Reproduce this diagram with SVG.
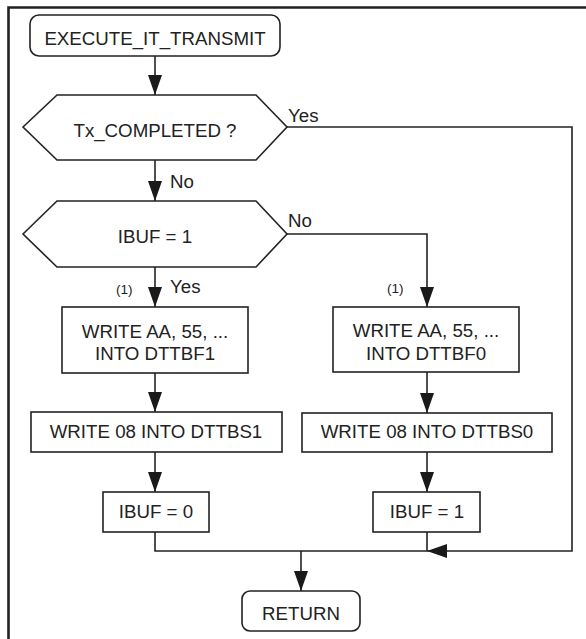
<svg xmlns="http://www.w3.org/2000/svg" width="586" height="639" viewBox="0 0 586 639">
<defs>
<marker id="ah" markerUnits="userSpaceOnUse" markerWidth="20" markerHeight="14" refX="20" refY="7" orient="auto">
<path d="M0,0 L20,7 L0,14 z" fill="#1a1a1a"/>
</marker>
<style>
.s{fill:#fff;stroke:#222;stroke-width:1.6}
.c{fill:none;stroke:#222;stroke-width:1.6}
.t{font-family:"Liberation Sans",Arial,sans-serif;font-size:18.7px;fill:#222;text-anchor:middle}
.l{font-family:"Liberation Sans",Arial,sans-serif;font-size:18.7px;fill:#222}
.n{font-family:"Liberation Sans",Arial,sans-serif;font-size:13.5px;fill:#222}
</style>
</defs>
<rect width="586" height="639" fill="#fff"/>
<path d="M8.5,639 V7.5 H586" fill="none" stroke="#222" stroke-width="2.6"/>

<g id="connectors">
<path class="c" d="M155,56 V95" marker-end="url(#ah)"/>
<path class="c" d="M155,160 V201" marker-end="url(#ah)"/>
<path class="c" d="M155,267 V307" marker-end="url(#ah)"/>
<path class="c" d="M155,373 V412" marker-end="url(#ah)"/>
<path class="c" d="M155,452 V492" marker-end="url(#ah)"/>
<path class="c" d="M287,234 H427 V307" marker-end="url(#ah)"/>
<path class="c" d="M427,372 V413" marker-end="url(#ah)"/>
<path class="c" d="M427,452 V492" marker-end="url(#ah)"/>
<path class="c" d="M287,127 H572 V551 H427" marker-end="url(#ah)"/>
<path class="c" d="M155,532 V551 H427 M427,532 V551"/>
<path class="c" d="M301,551 V591" marker-end="url(#ah)"/>
<text class="l" x="288" y="122">Yes</text>
<text class="l" x="170" y="188">No</text>
<text class="l" x="288" y="227">No</text>
<text class="l" x="170" y="293">Yes</text>
<text class="n" x="116" y="294">(1)</text>
<text class="n" x="387" y="293">(1)</text>
</g>

<g id="start">
<rect class="s" x="30" y="15" width="250" height="41" rx="9"/>
<text class="t" x="155" y="45">EXECUTE_IT_TRANSMIT</text>
</g>
<g id="dec1">
<polygon class="s" points="23,127 57,95 256,95 287,127 256,160 57,160"/>
<text class="t" x="155" y="137">Tx_COMPLETED ?</text>
</g>
<g id="dec2">
<polygon class="s" points="23,234 57,201 256,201 287,234 256,267 57,267"/>
<text class="t" x="155" y="243">IBUF = 1</text>
</g>
<g id="wbf1">
<rect class="s" x="62" y="307" width="186" height="66"/>
<text class="t" x="155" y="338">WRITE AA, 55, ...</text>
<text class="t" x="155" y="360">INTO DTTBF1</text>
</g>
<g id="wbf0">
<rect class="s" x="333" y="307" width="186" height="65"/>
<text class="t" x="426" y="337">WRITE AA, 55, ...</text>
<text class="t" x="426" y="360">INTO DTTBF0</text>
</g>
<g id="wbs1">
<rect class="s" x="31" y="412" width="251" height="40"/>
<text class="t" x="156" y="438">WRITE 08 INTO DTTBS1</text>
</g>
<g id="wbs0">
<rect class="s" x="302" y="413" width="250" height="39"/>
<text class="t" x="427" y="438">WRITE 08 INTO DTTBS0</text>
</g>
<g id="ibuf0">
<rect class="s" x="103" y="492" width="106" height="40"/>
<text class="t" x="156" y="518">IBUF = 0</text>
</g>
<g id="ibuf1">
<rect class="s" x="373" y="492" width="107" height="40"/>
<text class="t" x="427" y="518">IBUF = 1</text>
</g>
<g id="ret">
<rect class="s" x="242" y="591" width="118" height="40" rx="8"/>
<text class="t" x="301" y="620">RETURN</text>
</g>
</svg>
